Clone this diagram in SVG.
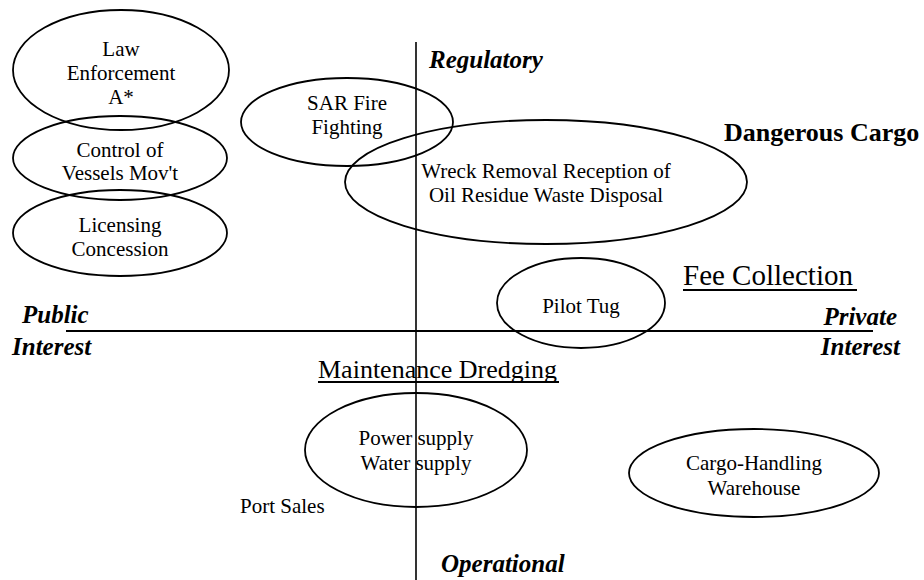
<svg xmlns="http://www.w3.org/2000/svg" width="924" height="580" viewBox="0 0 924 580">
<style>
  .bg { fill: #ffffff; }
  .node { fill: none; stroke: #000; stroke-width: 1.8; }
  .axis { stroke: #000; fill: none; }
  .t { font-family: "Liberation Serif", "Times New Roman", serif; font-size: 21px; fill: #000; text-anchor: middle; }
  .ts { font-family: "Liberation Serif", "Times New Roman", serif; font-size: 21px; fill: #000; text-anchor: start; }
  .ax { font-family: "Liberation Serif", "Times New Roman", serif; font-size: 25px; font-weight: bold; font-style: italic; fill: #000; }
  .axe { text-anchor: end; }
  .big { font-family: "Liberation Serif", "Times New Roman", serif; fill: #000; }
  .ul { stroke: #000; stroke-width: 2; }
</style>
<rect class="bg" x="0" y="0" width="924" height="580"/>

<g id="axes">
  <line class="axis" x1="416" y1="42" x2="416" y2="580" stroke-width="1.6"/>
  <line class="axis" x1="66" y1="331" x2="873" y2="331" stroke-width="2.2"/>
</g>

<g id="node-law-enforcement">
  <ellipse class="node" cx="121" cy="70" rx="108" ry="60"/>
  <text class="t" x="121" y="56">Law</text>
  <text class="t" x="121" y="80">Enforcement</text>
  <text class="t" x="121" y="104">A*</text>
</g>

<g id="node-control-vessels">
  <ellipse class="node" cx="120" cy="158" rx="107" ry="42"/>
  <text class="t" x="120" y="157">Control of</text>
  <text class="t" x="120" y="180">Vessels Mov't</text>
</g>

<g id="node-licensing">
  <ellipse class="node" cx="120" cy="233" rx="107" ry="43"/>
  <text class="t" x="120" y="232">Licensing</text>
  <text class="t" x="120" y="256">Concession</text>
</g>

<g id="node-sar">
  <ellipse class="node" cx="347" cy="122" rx="106" ry="44"/>
  <text class="t" x="347" y="110">SAR Fire</text>
  <text class="t" x="347" y="134">Fighting</text>
</g>

<g id="node-wreck">
  <ellipse class="node" cx="546" cy="182" rx="201" ry="62"/>
  <text class="t" x="546" y="178">Wreck Removal Reception of</text>
  <text class="t" x="546" y="202">Oil Residue Waste Disposal</text>
</g>

<g id="node-pilot-tug">
  <ellipse class="node" cx="581" cy="303" rx="84" ry="45"/>
  <text class="t" x="581" y="313">Pilot Tug</text>
</g>

<g id="node-power-water">
  <ellipse class="node" cx="416" cy="450" rx="111" ry="57"/>
  <text class="t" x="416" y="445">Power supply</text>
  <text class="t" x="416" y="470">Water supply</text>
</g>

<g id="node-cargo-handling">
  <ellipse class="node" cx="754" cy="473" rx="125" ry="44"/>
  <text class="t" x="754" y="470">Cargo-Handling</text>
  <text class="t" x="754" y="495">Warehouse</text>
</g>

<g id="label-regulatory">
  <text class="ax" x="429" y="68">Regulatory</text>
</g>
<g id="label-operational">
  <text class="ax" x="441" y="572">Operational</text>
</g>
<g id="label-public-interest">
  <text class="ax" x="22" y="323">Public</text>
  <text class="ax" x="12" y="355">Interest</text>
</g>
<g id="label-private-interest">
  <text class="ax axe" x="897" y="325">Private</text>
  <text class="ax axe" x="900" y="355">Interest</text>
</g>

<g id="label-dangerous-cargo">
  <text class="big" x="724" y="141" font-size="26" font-weight="bold">Dangerous Cargo</text>
</g>
<g id="label-fee-collection">
  <text class="big" x="683" y="285" font-size="29">Fee Collection</text>
  <line class="ul" x1="683" y1="290" x2="857" y2="290"/>
</g>
<g id="label-maintenance-dredging">
  <text class="big" x="318" y="378" font-size="26">Maintenance Dredging</text>
  <line class="ul" x1="318" y1="382" x2="559" y2="382"/>
</g>
<g id="label-port-sales">
  <text class="ts" x="240" y="513">Port Sales</text>
</g>
</svg>
